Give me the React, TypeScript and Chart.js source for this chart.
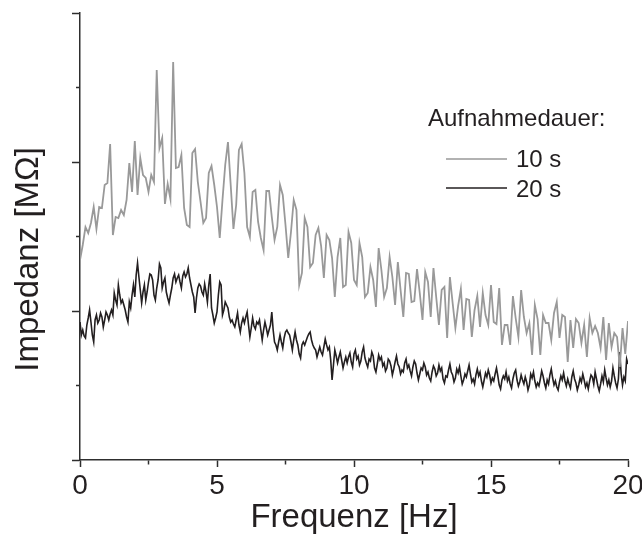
import React, { useEffect, useRef } from 'react';
import { Chart, registerables } from 'chart.js';

Chart.register(...registerables);

// ---- data ----
const FREQ_STEP_10S = 0.1; // Hz
const FREQ_STEP_20S = 0.05; // Hz
const X_TICK_LABELS = ['0', '5', '10', '15', '20'];
const SERIES_LABELS = ['10 s', '20 s'];
const LEGEND_TITLE = 'Aufnahmedauer:';
const X_TITLE = 'Frequenz [Hz]';
const Y_TITLE = 'Impedanz [MΩ]';

// impedance (arbitrary units, axis has no labels), 10 s recording, 0..20 Hz step 0.1
const impedance10s = [
  200, 215, 233, 227, 237, 253, 231, 253, 252, 275,
  277, 316, 225, 243, 242, 250, 245, 260, 297, 268,
  319, 265, 302, 285, 282, 268, 285, 278, 390, 312,
  322, 256, 276, 261, 398, 292, 293, 305, 252, 235,
  233, 307, 311, 278, 258, 237, 242, 287, 294, 275,
  253, 222, 260, 295, 318, 275, 231, 255, 310, 316,
  287, 233, 223, 268, 270, 238, 222, 210, 269, 269,
  243, 220, 233, 275, 265, 235, 202, 228, 260, 250,
  175, 187, 242, 233, 193, 197, 225, 232, 214, 182,
  225, 220, 202, 163, 203, 222, 173, 175, 228, 217,
  180, 175, 217, 203, 163, 167, 193, 180, 153, 212,
  190, 163, 172, 203, 183, 155, 198, 170, 143, 187,
  186, 158, 159, 191, 167, 140, 188, 178, 143, 192,
  163, 135, 170, 173, 122, 183, 157, 132, 154, 171,
  130, 161, 160, 123, 150, 164, 133, 167, 145, 135,
  175, 138, 136, 172, 115, 135, 135, 115, 164, 142,
  123, 170, 143, 127, 137, 105, 155, 141, 105, 145,
  137, 137, 120, 147, 158, 122, 145, 143, 98, 140,
  112, 141, 137, 117, 135, 103, 142, 127, 134, 127,
  112, 143, 100, 137, 113, 127, 123, 93, 132, 106,
  139,
];

// impedance, 20 s recording, 0..20 Hz step 0.05
const impedance20s = [
  138, 125, 130, 124, 122, 135, 142, 150, 138, 125,
  118, 140, 145, 137, 140, 147, 143, 133, 140, 148,
  145, 140, 146, 150, 145, 167, 160, 155, 175, 165,
  157, 160, 155, 150, 143, 138, 158, 152, 165, 175,
  163, 185, 197, 183, 170, 157, 168, 175, 160, 168,
  178, 186, 185, 180, 165, 160, 172, 180, 196, 192,
  172, 178, 182, 168, 162, 157, 165, 172, 182, 186,
  178, 182, 185, 178, 172, 184, 188, 183, 186, 192,
  182, 175, 168, 163, 147, 162, 172, 176, 174, 168,
  165, 176, 168, 158, 175, 186, 152, 145, 137, 142,
  148, 165, 178, 175, 145, 150, 158, 155, 152, 143,
  138, 140, 136, 133, 140, 147, 135, 128, 137, 142,
  137, 143, 148, 135, 123, 132, 142, 134, 131, 138,
  136, 140, 130, 120, 130, 138, 132, 125, 130, 135,
  148, 130, 118, 115, 110, 118, 125, 118, 112, 122,
  128, 130, 127, 125, 118, 110, 120, 128, 120, 115,
  106, 102, 115, 118, 115, 119, 123, 126, 128, 120,
  115, 112, 110, 103, 108, 113, 108, 105, 113, 121,
  115, 110, 113, 100, 80, 95, 110, 104, 97, 103,
  108, 100, 92, 98, 103, 97, 103, 107, 98, 93,
  106, 110, 101, 104, 95, 99, 108, 113, 102, 97,
  93, 101, 99, 108, 104, 92, 88, 96, 105, 100,
  103, 94, 97, 89, 92, 101, 99, 94, 85, 91,
  98, 104, 96, 93, 86, 90, 88, 97, 101, 92,
  95, 89, 84, 93, 99, 96, 87, 80, 86, 92,
  90, 97, 93, 85, 88, 82, 79, 88, 94, 91,
  84, 87, 95, 89, 92, 81, 77, 84, 83, 90,
  96, 88, 85, 78, 82, 91, 87, 93, 84, 76,
  80, 86, 83, 89, 95, 86, 78, 81, 76, 85,
  91, 84, 88, 79, 73, 80, 87, 83, 90, 85,
  77, 82, 79, 86, 92, 84, 75, 71, 80, 84,
  81, 88, 79, 83, 76, 72, 81, 87, 90, 80,
  74, 78, 85, 80, 76, 83, 78, 70, 75, 86,
  82, 88, 79, 73, 77, 74, 81, 89, 84, 77,
  72, 80, 76, 85, 91, 82, 75, 79, 73, 70,
  78, 84, 80, 87, 79, 74, 81, 76, 72, 83,
  89, 81, 77, 70, 75, 82, 78, 86, 80, 73,
  77, 71, 79, 85, 83, 76, 88, 81, 74, 69,
  76, 84, 78, 90, 82, 75, 80, 73, 79, 92,
  84, 77, 72, 81, 108, 86, 75, 83, 79, 101,
  96,
];

const Y_MAX = 447;
const Y_STEP = 74.5;

const TEXT_COLOR = '#231f20';
const AXIS_COLOR = '#2e2e2e';
const GRAY = '#999999';
const BLACK = '#231f20';
const FONT = '"Liberation Sans", Arial, Helvetica, sans-serif';

export default function App() {
  const ref = useRef<HTMLCanvasElement>(null);

  useEffect(() => {
    const canvas = ref.current;
    if (!canvas) return;

    Chart.defaults.font.family = FONT;
    Chart.defaults.color = TEXT_COLOR;

    const pts10 = impedance10s.map((y, i) => ({ x: +(i * FREQ_STEP_10S).toFixed(2), y }));
    const pts20 = impedance20s.map((y, i) => ({ x: +(i * FREQ_STEP_20S).toFixed(2), y }));

    const legendPlugin = {
      id: 'durationLegend',
      afterDraw(chart: any) {
        const ctx = chart.ctx as CanvasRenderingContext2D;
        ctx.save();
        ctx.font = `24px ${FONT}`;
        ctx.fillStyle = TEXT_COLOR;
        ctx.textAlign = 'left';
        ctx.textBaseline = 'alphabetic';
        ctx.fillText(LEGEND_TITLE, 428, 126);
        chart.data.datasets.forEach((ds: any, i: number) => {
          const ly = 159 + i * 29;
          ctx.strokeStyle = ds.borderColor;
          ctx.lineWidth = 1.5;
          ctx.beginPath();
          ctx.moveTo(446, ly);
          ctx.lineTo(507, ly);
          ctx.stroke();
          ctx.fillText(ds.label, 516, 167 + i * 30);
        });
        ctx.restore();
      },
    };

    const chart = new Chart(canvas, {
      type: 'line',
      data: {
        datasets: [
          {
            label: SERIES_LABELS[0],
            data: pts10,
            borderColor: GRAY,
            borderWidth: 1.8,
            pointRadius: 0,
            tension: 0,
            fill: false,
          },
          {
            label: SERIES_LABELS[1],
            data: pts20,
            borderColor: BLACK,
            borderWidth: 1.6,
            pointRadius: 0,
            tension: 0,
            fill: false,
          },
        ],
      },
      options: {
        animation: false,
        responsive: false,
        devicePixelRatio: 1,
        layout: { padding: { top: 13, right: 14, left: 0, bottom: 0 } },
        plugins: { legend: { display: false }, tooltip: { enabled: false } },
        scales: {
          x: {
            type: 'linear',
            min: 0,
            max: 20,
            border: { display: true, color: AXIS_COLOR, width: 1.5 },
            grid: {
              display: true,
              drawOnChartArea: false,
              drawTicks: true,
              tickLength: 7,
              tickWidth: 1.5,
              tickColor: AXIS_COLOR,
              tickBorderDash: (c: any) => (c.index % 2 === 0 ? [] : [4, 100]),
            },
            ticks: {
              stepSize: 2.5,
              autoSkip: false,
              maxRotation: 0,
              minRotation: 0,
              padding: 2,
              color: TEXT_COLOR,
              font: { size: 28 },
              callback: (v: any) => (X_TICK_LABELS.includes(String(v)) ? String(v) : ''),
            },
            title: {
              display: true,
              text: X_TITLE,
              color: TEXT_COLOR,
              font: { size: 33 },
              padding: { top: 0, bottom: 0 },
            },
            afterFit: (s: any) => {
              s.height = 78;
              s.paddingLeft = 0;
              s.paddingRight = 0;
            },
          },
          y: {
            type: 'linear',
            min: 0,
            max: Y_MAX,
            border: { display: true, color: AXIS_COLOR, width: 1.5 },
            grid: {
              display: true,
              drawOnChartArea: false,
              drawTicks: true,
              tickLength: 8,
              tickWidth: 1.5,
              tickColor: AXIS_COLOR,
              tickBorderDash: (c: any) => (c.index % 2 === 0 ? [] : [0, 4, 4, 100]),
            },
            ticks: { display: false, stepSize: Y_STEP },
            title: {
              display: true,
              text: Y_TITLE + '     ',
              color: TEXT_COLOR,
              font: { size: 33 },
              padding: { top: 9, bottom: 0 },
            },
            afterFit: (s: any) => {
              s.width = 80;
              s.paddingTop = 0;
              s.paddingBottom = 0;
            },
          },
        },
      },
      plugins: [legendPlugin],
    } as any);

    return () => chart.destroy();
  }, []);

  return (
    <div style={{ position: 'fixed', left: 0, top: 0, width: 642, height: 538, background: '#fff' }}>
      <canvas ref={ref} width={642} height={538} style={{ display: 'block' }} />
    </div>
  );
}
